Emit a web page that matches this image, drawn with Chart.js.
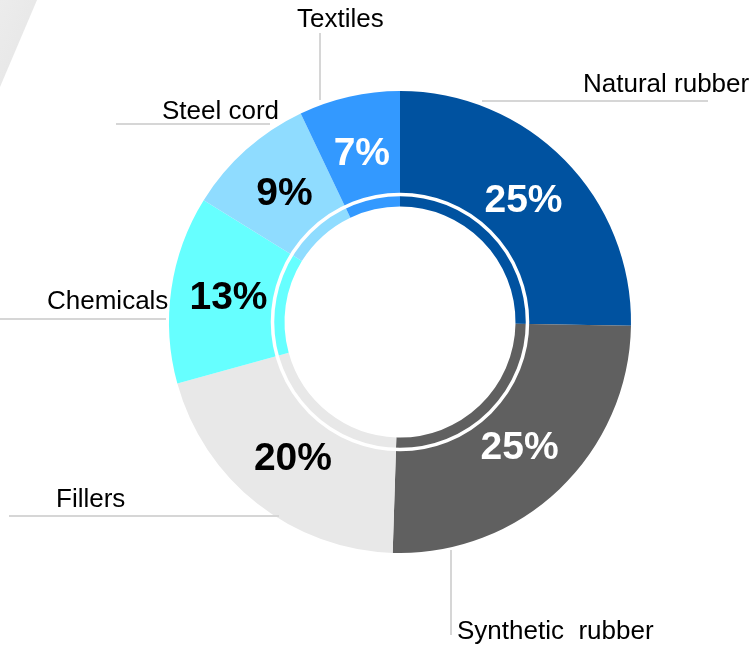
<!DOCTYPE html>
<html lang="en">
<head>
<meta charset="UTF-8">
<title>Tyre composition</title>
<script src="https://cdn.jsdelivr.net/npm/chart.js"></script>
<style>
  html, body { margin: 0; padding: 0; background: #fff; }
  #wrap { position: relative; width: 756px; height: 645px; overflow: hidden; }
  /* grey slanted panel in the top-left corner */
  #corner {
    position: absolute; left: 0; top: 0; width: 40px; height: 90px;
    clip-path: polygon(0 0, 37px 0, 0 87px);
    background: linear-gradient(115deg, #ececec 0%, #e8e8e8 55%, #dedede 85%, #f2f2f2 100%);
  }
  canvas { position: absolute; left: 0; top: 0; }
</style>
</head>
<body>
<div id="wrap">
  <div id="corner"></div>
  <canvas id="donut" width="756" height="645"></canvas>
</div>
<script>
const categories = ['Natural rubber', 'Synthetic  rubber', 'Fillers', 'Chemicals', 'Steel cord', 'Textiles']
const shares = [25, 25, 20, 13, 9, 7]
const sliceColors = ['#0052a0', '#606060', '#e8e8e8', '#66ffff', '#8fdcff', '#3399ff']
const percentColors = ['#ffffff', '#ffffff', '#000000', '#000000', '#000000', '#ffffff']

// where each category name and its leader line sit
const callouts = [
  { text: [583, 92], line: [482, 101, 708, 101] },
  { text: [457, 639], line: [451, 550, 451, 635] },
  { text: [56, 507], line: [9, 516, 279, 516] },
  { text: [47, 309], line: [0, 319, 166, 319] },
  { text: [162, 119], line: [116, 124, 270, 124] },
  { text: [297, 27], line: [320, 33, 320, 100] },
]

const FONT = '"Liberation Sans", Arial, Helvetica, sans-serif'

const ringAndLabels = {
  id: 'ringAndLabels',
  afterDatasetsDraw(chart) {
    const ctx = chart.ctx
    const arcs = chart.getDatasetMeta(0).data
    const first = arcs[0]

    // thin white circle separating the inner band from the main ring
    ctx.save()
    ctx.beginPath()
    ctx.arc(first.x, first.y, first.innerRadius + 12, 0, Math.PI * 2)
    ctx.strokeStyle = '#ffffff'
    ctx.lineWidth = 3.5
    ctx.stroke()

    // percentage inside each slice
    ctx.font = 'bold 39px ' + FONT
    ctx.textAlign = 'center'
    ctx.textBaseline = 'middle'
    arcs.forEach((arc, i) => {
      const { x, y, startAngle, endAngle, innerRadius, outerRadius } = arc.getProps(
        ['x', 'y', 'startAngle', 'endAngle', 'innerRadius', 'outerRadius'], true)
      const mid = (startAngle + endAngle) / 2
      const r = (innerRadius + outerRadius) / 2
      ctx.fillStyle = percentColors[i]
      ctx.fillText(shares[i] + '%', x + Math.cos(mid) * r, y + Math.sin(mid) * r + 1)
    })
    ctx.restore()
  },
  afterDraw(chart) {
    const ctx = chart.ctx
    ctx.save()
    ctx.strokeStyle = '#d6d6d6'
    ctx.lineWidth = 2
    ctx.font = '26px ' + FONT
    ctx.fillStyle = '#000000'
    ctx.textAlign = 'left'
    ctx.textBaseline = 'alphabetic'
    callouts.forEach((c, i) => {
      const [x1, y1, x2, y2] = c.line
      ctx.beginPath()
      ctx.moveTo(x1, y1)
      ctx.lineTo(x2, y2)
      ctx.stroke()
      ctx.fillText(categories[i], c.text[0], c.text[1])
    })
    ctx.restore()
  }
}

new Chart(document.getElementById('donut'), {
  type: 'doughnut',
  data: {
    labels: categories,
    datasets: [{
      data: shares,
      backgroundColor: sliceColors,
      borderWidth: 0,
      hoverOffset: 0,
      offset: 0,
    }]
  },
  options: {
    responsive: false,
    animation: false,
    events: [],
    radius: 231,
    cutout: 115.5,
    layout: { padding: { left: 169, right: 125, top: 91, bottom: 92 } },
    plugins: {
      legend: { display: false },
      tooltip: { enabled: false },
    },
  },
  plugins: [ringAndLabels],
})
</script>
</body>
</html>
